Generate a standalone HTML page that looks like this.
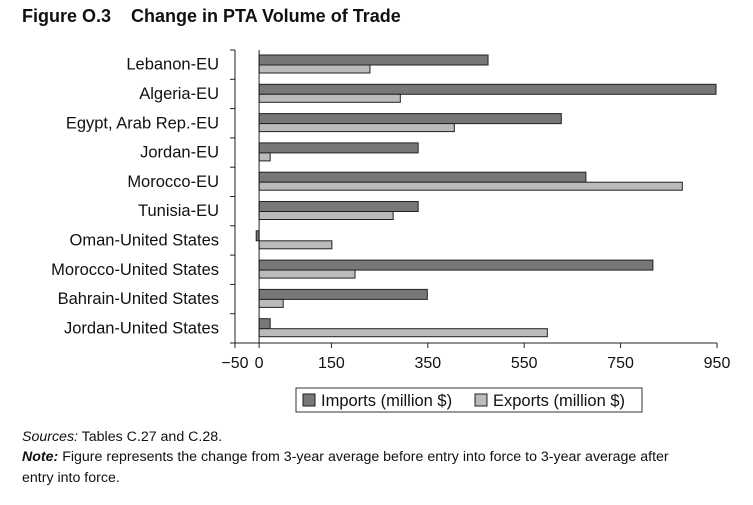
<!DOCTYPE html>
<html><head><meta charset="utf-8"><style>
body{margin:0;background:#fff;width:753px;height:500px;overflow:hidden;font-family:"Liberation Sans",sans-serif}
</style></head><body>
<svg width="753" height="500" xmlns="http://www.w3.org/2000/svg">
<text x="22" y="22" font-size="18" font-weight="bold" fill="#111">Figure O.3&#160;&#160;&#160;&#160;Change in PTA Volume of Trade</text>
<g id="plot"></g>
<g>
<rect x="296" y="388" width="346" height="24" fill="none" stroke="#333" stroke-width="1"/>
<rect x="303" y="394" width="12" height="12" fill="#777" stroke="#222"/>
<text x="321" y="406" font-size="16.5" fill="#111">Imports (million $)</text>
<rect x="475" y="394" width="12" height="12" fill="#bbb" stroke="#222"/>
<text x="493" y="406" font-size="16.5" fill="#111">Exports (million $)</text>
</g>
<text x="22" y="441" font-size="14.2" fill="#111"><tspan font-style="italic">Sources:</tspan> Tables C.27 and C.28.</text>
<text x="22" y="461" font-size="14.2" fill="#111"><tspan font-style="italic" font-weight="bold">Note:</tspan> Figure represents the change from 3-year average before entry into force to 3-year average after</text>
<text x="22" y="482" font-size="14.2" fill="#111">entry into force.</text>
</svg>
<script>
const categories=["Lebanon-EU","Algeria-EU","Egypt, Arab Rep.-EU","Jordan-EU","Morocco-EU","Tunisia-EU","Oman-United States","Morocco-United States","Bahrain-United States","Jordan-United States"];
const imports=[475,948,627,330,678,330,-6,817,349,23];
const exports_=[230,293,405,23,878,278,151,199,50,598];
const ticks=[-50,0,150,350,550,750,950];
const tickLabels=["\u221250","0","150","350","550","750","950"];
const NS="http://www.w3.org/2000/svg";
const g=document.getElementById('plot');
const x0=235,x1=717,vmin=-50,vmax=950,yTop=50,yBottom=343;
const band=(yBottom-yTop)/categories.length;
function xs(v){return x0+(v-vmin)/(vmax-vmin)*(x1-x0);}
function mk(t,a){const e=document.createElementNS(NS,t);for(const k in a)e.setAttribute(k,a[k]);g.appendChild(e);return e;}
categories.forEach((c,i)=>{
 const y=yTop+i*band;
 const t=mk('text',{x:219,y:y+band/2+5,'font-size':16.5,fill:'#111','text-anchor':'end'});
 t.textContent=c;
 
 
 [[imports[i],'#777',5],[exports_[i],'#bbb',15]].forEach(([v,col,off],j)=>{
  const a=xs(0),b=xs(v);
  const r=mk('rect',{x:Math.min(a,b),y:y+off,width:Math.abs(b-a),height:j?8:10,fill:col,stroke:'#222','stroke-width':1});
  
  
 });
});
for(let i=0;i<=categories.length;i++){
 const y=yTop+i*band;
 const l=mk('line',{x1:x0-5,x2:x0,y1:y,y2:y,stroke:'#222'});
 
 
}
let ax=mk('line',{x1:x0,x2:x0,y1:yTop,y2:yBottom,stroke:'#222'});


let zl=mk('line',{x1:xs(0),x2:xs(0),y1:yTop,y2:yBottom,stroke:'#222'});


let bx=mk('line',{x1:x0,x2:x1,y1:yBottom,y2:yBottom,stroke:'#222'});


ticks.forEach((v,i)=>{
 const l=mk('line',{x1:xs(v),x2:xs(v),y1:yBottom,y2:yBottom+5,stroke:'#222'});
 
 
 const t=mk('text',{x:xs(v),y:yBottom+25,'font-size':16,fill:'#111','text-anchor':'middle'});
 t.textContent=tickLabels[i];
 
 
});
</script>
</body></html>
